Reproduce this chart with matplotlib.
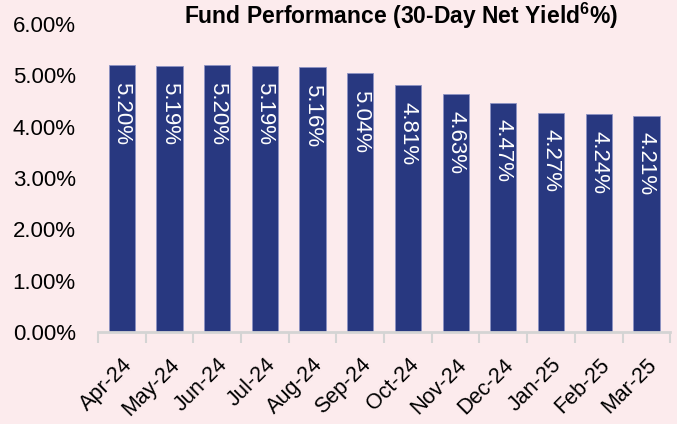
import numpy as np
import matplotlib
matplotlib.use("Agg")
from matplotlib import pyplot as plt
from matplotlib.ticker import FixedLocator

months = ["Apr-24", "May-24", "Jun-24", "Jul-24", "Aug-24", "Sep-24",
          "Oct-24", "Nov-24", "Dec-24", "Jan-25", "Feb-25", "Mar-25"]
yields = [5.20, 5.19, 5.20, 5.19, 5.16, 5.04, 4.81, 4.63, 4.47, 4.27, 4.24, 4.21]
yticks = [0, 1, 2, 3, 4, 5, 6]

plt.rcParams['font.family'] = ['Liberation Sans', 'DejaVu Sans']
plt.rcParams['mathtext.fontset'] = 'custom'
plt.rcParams['mathtext.rm'] = 'Liberation Sans'
plt.rcParams['mathtext.bf'] = 'Liberation Sans:bold'
bg = "#fcebed"
bar_color = "#283880"

fig = plt.figure(figsize=(6.77, 4.24), dpi=100, facecolor=bg)
ax = fig.add_axes([0.1448, 0.217, 0.8452, 0.726])
ax.set_facecolor(bg)

x = np.arange(len(months))
bars = ax.bar(x, yields, width=0.55, color=bar_color, edgecolor="#8d93c4", linewidth=0.6)

# labels inside the bars, reading downwards
for xi, v in zip(x, yields):
    ax.text(xi, v - 0.32, "%.2f%%" % v, rotation=-90, ha="center", va="top",
            color="white", fontsize=16)

ax.set_xlim(-0.5, len(months) - 0.5)
ax.set_ylim(0, 6)
ax.set_yticks(yticks)
ax.set_yticklabels(["%.2f%%" % t for t in yticks], fontsize=16)
ax.tick_params(axis="y", length=0, pad=16)

ax.set_xticks(x)
ax.set_xticklabels(months, rotation=45, ha="right", rotation_mode="anchor", fontsize=15.5)
ax.tick_params(axis="x", which="major", length=0, pad=16)
ax.xaxis.set_minor_locator(FixedLocator(np.arange(-0.5, len(months), 1.0)))
ax.tick_params(axis="x", which="minor", length=8, width=1.5, color="#d4d4d4")

for s in ["left", "right", "top"]:
    ax.spines[s].set_visible(False)
ax.spines["bottom"].set_color("#d4d4d4")
ax.spines["bottom"].set_linewidth(2)

fig.text(0.592, 0.962, r"Fund Performance (30-Day Net Yield$^{\mathbf{6}}$%)", ha="center",
         va="center", fontsize=16.5, fontweight="bold")

fig.savefig("out.png", dpi=100, facecolor=bg)
